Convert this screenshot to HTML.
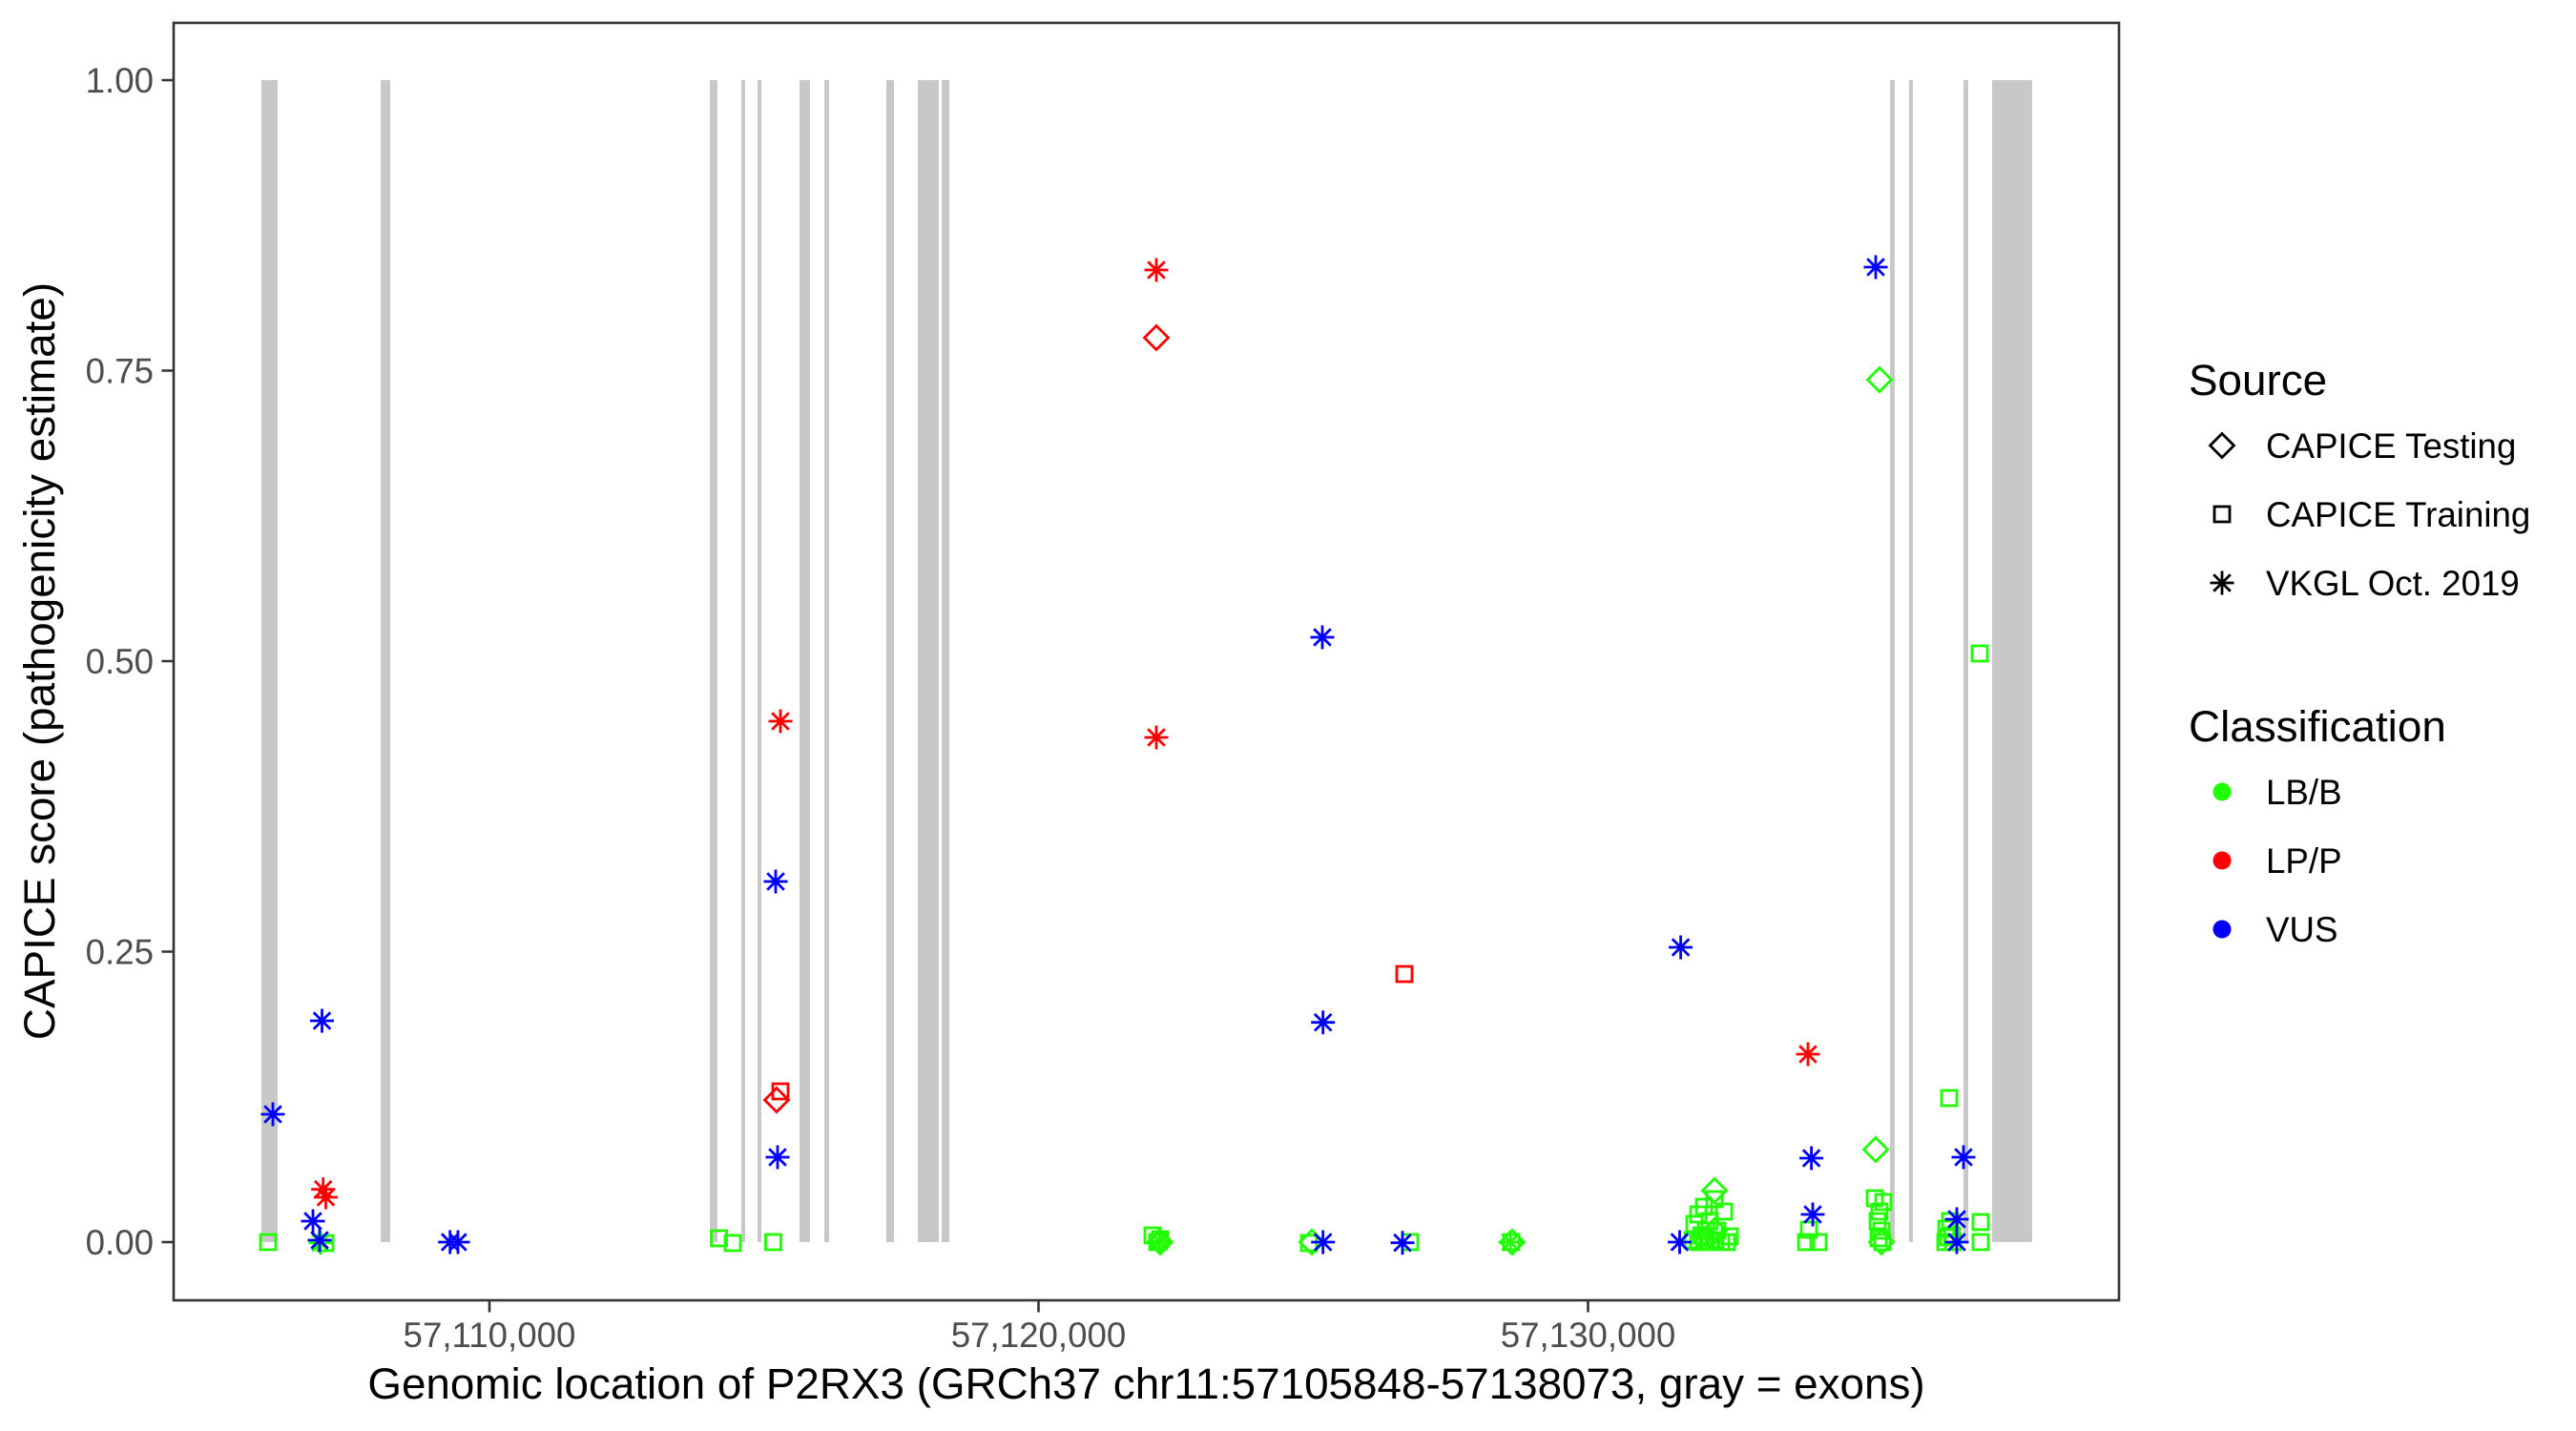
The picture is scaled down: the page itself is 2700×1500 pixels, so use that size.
<!DOCTYPE html>
<html>
<head>
<meta charset="utf-8">
<style>
html,body{margin:0;padding:0;background:#fff;overflow:hidden;}
svg{display:block;}
text{font-family:"Liberation Sans",Arial,Helvetica,sans-serif;}
</style>
</head>
<body>
<svg width="2700" height="1500" viewBox="0 0 2700 1500" xmlns="http://www.w3.org/2000/svg">
<rect x="0" y="0" width="2700" height="1500" fill="#fff"/>
<g fill="#c8c8c8">
<rect x="274" y="84" width="17" height="1218"/>
<rect x="399" y="84" width="10" height="1218"/>
<rect x="744" y="84" width="8" height="1218"/>
<rect x="777" y="84" width="4" height="1218"/>
<rect x="794" y="84" width="4" height="1218"/>
<rect x="838" y="84" width="11" height="1218"/>
<rect x="864" y="84" width="5" height="1218"/>
<rect x="929" y="84" width="8" height="1218"/>
<rect x="962" y="84" width="22" height="1218"/>
<rect x="987" y="84" width="8" height="1218"/>
<rect x="1981" y="84" width="5" height="1218"/>
<rect x="2001" y="84" width="4" height="1218"/>
<rect x="2058" y="84" width="5" height="1218"/>
<rect x="2088" y="84" width="42" height="1218"/>
</g>
<g fill="none" stroke-width="2.8">
<path stroke="#1fff00" d="M281,1302m-8,-8h16v16h-16z M341,1303m-8,-8h16v16h-16z M753.6,1298m-8,-8h16v16h-16z M768,1303m-8,-8h16v16h-16z M810.5,1302m-8,-8h16v16h-16z M1208,1295m-8,-8h16v16h-16z M1213,1302m-8,-8h16v16h-16z M1216,1299m-8,-8h16v16h-16z M1372,1303m-8,-8h16v16h-16z M1478,1302m-8,-8h16v16h-16z M1584,1302m-8,-8h16v16h-16z M1776,1283m-8,-8h16v16h-16z M1780,1273m-8,-8h16v16h-16z M1786,1265m-8,-8h16v16h-16z M1792,1280m-8,-8h16v16h-16z M1797,1257m-8,-8h16v16h-16z M1807,1270m-8,-8h16v16h-16z M1774,1300m-8,-8h16v16h-16z M1780,1302m-8,-8h16v16h-16z M1786,1298m-8,-8h16v16h-16z M1792,1302m-8,-8h16v16h-16z M1798,1300m-8,-8h16v16h-16z M1804,1302m-8,-8h16v16h-16z M1810,1302m-8,-8h16v16h-16z M1813,1296m-8,-8h16v16h-16z M1788,1290m-8,-8h16v16h-16z M1800,1290m-8,-8h16v16h-16z M1783,1295m-8,-8h16v16h-16z M1893,1302m-8,-8h16v16h-16z M1906,1302m-8,-8h16v16h-16z M1896,1289m-8,-8h16v16h-16z M1965,1256m-8,-8h16v16h-16z M1974,1260m-8,-8h16v16h-16z M1970,1270m-8,-8h16v16h-16z M1968,1280m-8,-8h16v16h-16z M1972,1290m-8,-8h16v16h-16z M1969,1298m-8,-8h16v16h-16z M1973,1302m-8,-8h16v16h-16z M2043,1151m-8,-8h16v16h-16z M2044,1280m-8,-8h16v16h-16z M2040,1288m-8,-8h16v16h-16z M2046,1295m-8,-8h16v16h-16z M2039,1302m-8,-8h16v16h-16z M2047,1302m-8,-8h16v16h-16z M2042,1297m-8,-8h16v16h-16z M2076,1281m-8,-8h16v16h-16z M2076,1302m-8,-8h16v16h-16z M2075,685m-8,-8h16v16h-16z"/>
<path stroke="#1fff00" d="M1216,1289.5l12.5,12.5l-12.5,12.5l-12.5,-12.5z M1375,1289.5l12.5,12.5l-12.5,12.5l-12.5,-12.5z M1585,1289.5l12.5,12.5l-12.5,12.5l-12.5,-12.5z M1797,1235.5l12.5,12.5l-12.5,12.5l-12.5,-12.5z M1797,1277.5l12.5,12.5l-12.5,12.5l-12.5,-12.5z M1966,1192.5l12.5,12.5l-12.5,12.5l-12.5,-12.5z M1970,385.5l12.5,12.5l-12.5,12.5l-12.5,-12.5z M1972,1289.5l12.5,12.5l-12.5,12.5l-12.5,-12.5z"/>
<path stroke="#1fff00" d="M336,1302.7m0,-12.5v25m-12.5,-12.5h25m-3.7,-8.8l-17.6,17.6m0,-17.6l17.6,17.6 M1215,1301m0,-12.5v25m-12.5,-12.5h25m-3.7,-8.8l-17.6,17.6m0,-17.6l17.6,17.6 M1583,1302m0,-12.5v25m-12.5,-12.5h25m-3.7,-8.8l-17.6,17.6m0,-17.6l17.6,17.6"/>
<path stroke="#ff0000" d="M338.7,1246.7m0,-12.5v25m-12.5,-12.5h25m-3.7,-8.8l-17.6,17.6m0,-17.6l17.6,17.6 M341.5,1255m0,-12.5v25m-12.5,-12.5h25m-3.7,-8.8l-17.6,17.6m0,-17.6l17.6,17.6 M818,756m0,-12.5v25m-12.5,-12.5h25m-3.7,-8.8l-17.6,17.6m0,-17.6l17.6,17.6 M1212,283m0,-12.5v25m-12.5,-12.5h25m-3.7,-8.8l-17.6,17.6m0,-17.6l17.6,17.6 M1212,773m0,-12.5v25m-12.5,-12.5h25m-3.7,-8.8l-17.6,17.6m0,-17.6l17.6,17.6 M1895,1105m0,-12.5v25m-12.5,-12.5h25m-3.7,-8.8l-17.6,17.6m0,-17.6l17.6,17.6"/>
<path stroke="#ff0000" d="M818,1144m-8,-8h16v16h-16z M1472,1021m-8,-8h16v16h-16z M814,1140.5l12.5,12.5l-12.5,12.5l-12.5,-12.5z M1212,341.5l12.5,12.5l-12.5,12.5l-12.5,-12.5z"/>
<path stroke="#0000ff" d="M286,1168m0,-12.5v25m-12.5,-12.5h25m-3.7,-8.8l-17.6,17.6m0,-17.6l17.6,17.6 M337.5,1070m0,-12.5v25m-12.5,-12.5h25m-3.7,-8.8l-17.6,17.6m0,-17.6l17.6,17.6 M328,1280m0,-12.5v25m-12.5,-12.5h25m-3.7,-8.8l-17.6,17.6m0,-17.6l17.6,17.6 M335,1300m0,-12.5v25m-12.5,-12.5h25m-3.7,-8.8l-17.6,17.6m0,-17.6l17.6,17.6 M471.7,1302m0,-12.5v25m-12.5,-12.5h25m-3.7,-8.8l-17.6,17.6m0,-17.6l17.6,17.6 M480,1302m0,-12.5v25m-12.5,-12.5h25m-3.7,-8.8l-17.6,17.6m0,-17.6l17.6,17.6 M815,1213m0,-12.5v25m-12.5,-12.5h25m-3.7,-8.8l-17.6,17.6m0,-17.6l17.6,17.6 M813,924m0,-12.5v25m-12.5,-12.5h25m-3.7,-8.8l-17.6,17.6m0,-17.6l17.6,17.6 M1386,668m0,-12.5v25m-12.5,-12.5h25m-3.7,-8.8l-17.6,17.6m0,-17.6l17.6,17.6 M1386.7,1071.7m0,-12.5v25m-12.5,-12.5h25m-3.7,-8.8l-17.6,17.6m0,-17.6l17.6,17.6"/>
<path stroke="#0000ff" d="M1386.7,1302m0,-12.5v25m-12.5,-12.5h25m-3.7,-8.8l-17.6,17.6m0,-17.6l17.6,17.6 M1470,1302.7m0,-12.5v25m-12.5,-12.5h25m-3.7,-8.8l-17.6,17.6m0,-17.6l17.6,17.6 M1761.6,993m0,-12.5v25m-12.5,-12.5h25m-3.7,-8.8l-17.6,17.6m0,-17.6l17.6,17.6 M1760.5,1302m0,-12.5v25m-12.5,-12.5h25m-3.7,-8.8l-17.6,17.6m0,-17.6l17.6,17.6 M1898.6,1214m0,-12.5v25m-12.5,-12.5h25m-3.7,-8.8l-17.6,17.6m0,-17.6l17.6,17.6 M1900,1273m0,-12.5v25m-12.5,-12.5h25m-3.7,-8.8l-17.6,17.6m0,-17.6l17.6,17.6 M1966,280m0,-12.5v25m-12.5,-12.5h25m-3.7,-8.8l-17.6,17.6m0,-17.6l17.6,17.6 M2058,1213m0,-12.5v25m-12.5,-12.5h25m-3.7,-8.8l-17.6,17.6m0,-17.6l17.6,17.6 M2051,1278m0,-12.5v25m-12.5,-12.5h25m-3.7,-8.8l-17.6,17.6m0,-17.6l17.6,17.6 M2051,1302m0,-12.5v25m-12.5,-12.5h25m-3.7,-8.8l-17.6,17.6m0,-17.6l17.6,17.6"/>
<path stroke="#000000" d="M2329,454.5l12.5,12.5l-12.5,12.5l-12.5,-12.5z M2329,539m-8,-8h16v16h-16z M2329,611m0,-12.5v25m-12.5,-12.5h25m-3.7,-8.8l-17.6,17.6m0,-17.6l17.6,17.6"/>
</g>
<rect x="182" y="24" width="2039" height="1339" fill="none" stroke="#333333" stroke-width="2.6"/>
<path stroke="#333333" stroke-width="2.6" fill="none" d="M169.5,84H182M169.5,388.5H182M169.5,693H182M169.5,997.5H182M169.5,1302H182M513,1363V1375.5M1088.5,1363V1375.5M1664.5,1363V1375.5"/>
<g fill="#4d4d4d" font-size="36.7" text-anchor="end">
<text x="161" y="97">1.00</text>
<text x="161" y="401.5">0.75</text>
<text x="161" y="706">0.50</text>
<text x="161" y="1010.5">0.25</text>
<text x="161" y="1315">0.00</text>
</g>
<g fill="#4d4d4d" font-size="36.7" text-anchor="middle">
<text x="513" y="1412">57,110,000</text>
<text x="1088.5" y="1412">57,120,000</text>
<text x="1664.5" y="1412">57,130,000</text>
</g>
<text x="1201.5" y="1466" font-size="45.8" text-anchor="middle" fill="#000">Genomic location of P2RX3 (GRCh37 chr11:57105848-57138073, gray = exons)</text>
<text transform="translate(57,693) rotate(-90)" font-size="45.8" text-anchor="middle" fill="#000">CAPICE score (pathogenicity estimate)</text>
<text x="2294" y="414" font-size="45.8" fill="#000">Source</text>
<g font-size="36.7" fill="#000">
<text x="2375" y="480">CAPICE Testing</text>
<text x="2375" y="552">CAPICE Training</text>
<text x="2375" y="624">VKGL Oct. 2019</text>
</g>
<text x="2294" y="777" font-size="45.8" fill="#000">Classification</text>
<circle cx="2329" cy="830" r="9.5" fill="#1fff00"/>
<circle cx="2329" cy="902" r="9.5" fill="#ff0000"/>
<circle cx="2329" cy="974" r="9.5" fill="#0000ff"/>
<g font-size="36.7" fill="#000">
<text x="2375" y="843">LB/B</text>
<text x="2375" y="915">LP/P</text>
<text x="2375" y="987">VUS</text>
</g>
</svg>
</body>
</html>
